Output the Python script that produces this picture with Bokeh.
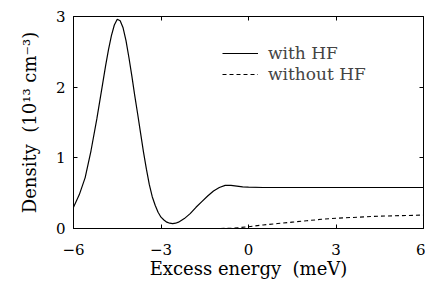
from bokeh.plotting import figure
from bokeh.models import LinearAxis, FixedTicker, CustomJSTickFormatter, Legend, LegendItem, Range1d
from bokeh.embed import file_html
from bokeh.resources import INLINE

# with HF
x_hf = [-6.0, -5.8, -5.6, -5.4, -5.2, -5.0, -4.9, -4.8, -4.7, -4.6, -4.5, -4.4, -4.3, -4.2,
        -4.1, -4.0, -3.9, -3.8, -3.7, -3.6, -3.5, -3.4, -3.3, -3.2, -3.1, -3.0, -2.9, -2.8,
        -2.7, -2.6, -2.5, -2.4, -2.2, -2.0, -1.8, -1.6, -1.4, -1.2, -1.0, -0.8, -0.6, -0.4,
        -0.2, 0.0, 0.5, 1.0, 2.0, 3.0, 4.0, 5.0, 6.0]
y_hf = [0.30, 0.48, 0.72, 1.10, 1.55, 2.05, 2.30, 2.53, 2.73, 2.88, 2.96, 2.94, 2.84, 2.66,
        2.42, 2.16, 1.88, 1.62, 1.35, 1.08, 0.84, 0.62, 0.45, 0.33, 0.23, 0.16, 0.12, 0.09,
        0.075, 0.07, 0.075, 0.09, 0.14, 0.21, 0.30, 0.38, 0.46, 0.53, 0.58, 0.61, 0.61, 0.60,
        0.59, 0.585, 0.58, 0.58, 0.58, 0.58, 0.58, 0.58, 0.58]

# without HF
x_nohf = [-6.0, -4.0, -2.0, -1.0, -0.5, 0.0, 0.5, 1.0, 1.5, 2.0, 2.5, 3.0, 3.5, 4.0, 4.5, 5.0, 5.5, 6.0]
y_nohf = [0.0, 0.0, 0.0, 0.0, 0.005, 0.025, 0.05, 0.07, 0.09, 0.11, 0.13, 0.145, 0.155, 0.165, 0.175, 0.18, 0.185, 0.19]

x_ticks = [-6, -3, 0, 3, 6]
x_tick_labels = {-6: "\u22126", -3: "\u22123", 0: "0", 3: "3", 6: "6"}
y_ticks = [0, 1, 2, 3]

FONT = "DejaVu Serif"

p = figure(width=425, height=282, output_backend="svg", toolbar_location=None,
           x_range=Range1d(-6, 6), y_range=Range1d(0, 3),
           min_border_left=73, min_border_right=2, min_border_top=16, min_border_bottom=54)
p.grid.visible = False
p.outline_line_color = "black"
p.outline_line_width = 1

r1 = p.line(x_hf, y_hf, line_color="black", line_width=1.2)
r2 = p.line(x_nohf, y_nohf, line_color="black", line_width=1.1, line_dash="4 3")

for ax in (p.xaxis[0], p.yaxis[0]):
    ax.axis_line_color = "black"
    ax.major_tick_in = 4
    ax.major_tick_out = 0
    ax.minor_tick_in = 0
    ax.minor_tick_out = 0
    ax.major_label_text_font = FONT
    ax.major_label_text_font_size = "15px"
    ax.major_label_text_color = "black"
    ax.axis_label_text_font = FONT
    ax.axis_label_text_font_size = "18px"
    ax.axis_label_text_font_style = "normal"
    ax.axis_label_text_color = "black"

p.xaxis[0].ticker = FixedTicker(ticks=x_ticks)
p.xaxis[0].major_label_overrides = x_tick_labels
p.xaxis[0].major_label_standoff = 15
p.xaxis[0].axis_label = "Excess energy\u00a0 (meV)"
p.xaxis[0].axis_label_standoff = 0

p.yaxis[0].ticker = FixedTicker(ticks=y_ticks)
p.yaxis[0].major_label_standoff = 8
p.yaxis[0].axis_label = "Density\u00a0 (10\u00b9\u00b3 cm\u207b\u00b3)"
p.yaxis[0].axis_label_standoff = 13

blank = CustomJSTickFormatter(code="return ''")
top = LinearAxis(ticker=FixedTicker(ticks=x_ticks), formatter=blank)
right = LinearAxis(ticker=FixedTicker(ticks=y_ticks), formatter=blank)
for ax in (top, right):
    ax.axis_line_alpha = 0
    ax.major_tick_in = 4
    ax.major_tick_out = 0
    ax.minor_tick_in = 0
    ax.minor_tick_out = 0
    ax.major_label_text_font_size = "0px"
    ax.major_label_standoff = 0
p.add_layout(top, "above")
p.add_layout(right, "right")

legend = Legend(items=[LegendItem(label="with HF", renderers=[r1]),
                       LegendItem(label="without HF", renderers=[r2])],
                location=(149, 144), padding=0, margin=0, spacing=1,
                glyph_width=36, glyph_height=20, label_standoff=10,
                label_text_font=FONT, label_text_font_size="17px",
                border_line_alpha=0, background_fill_alpha=0)
p.add_layout(legend)

open("out.html", "w").write(file_html(p, INLINE))
